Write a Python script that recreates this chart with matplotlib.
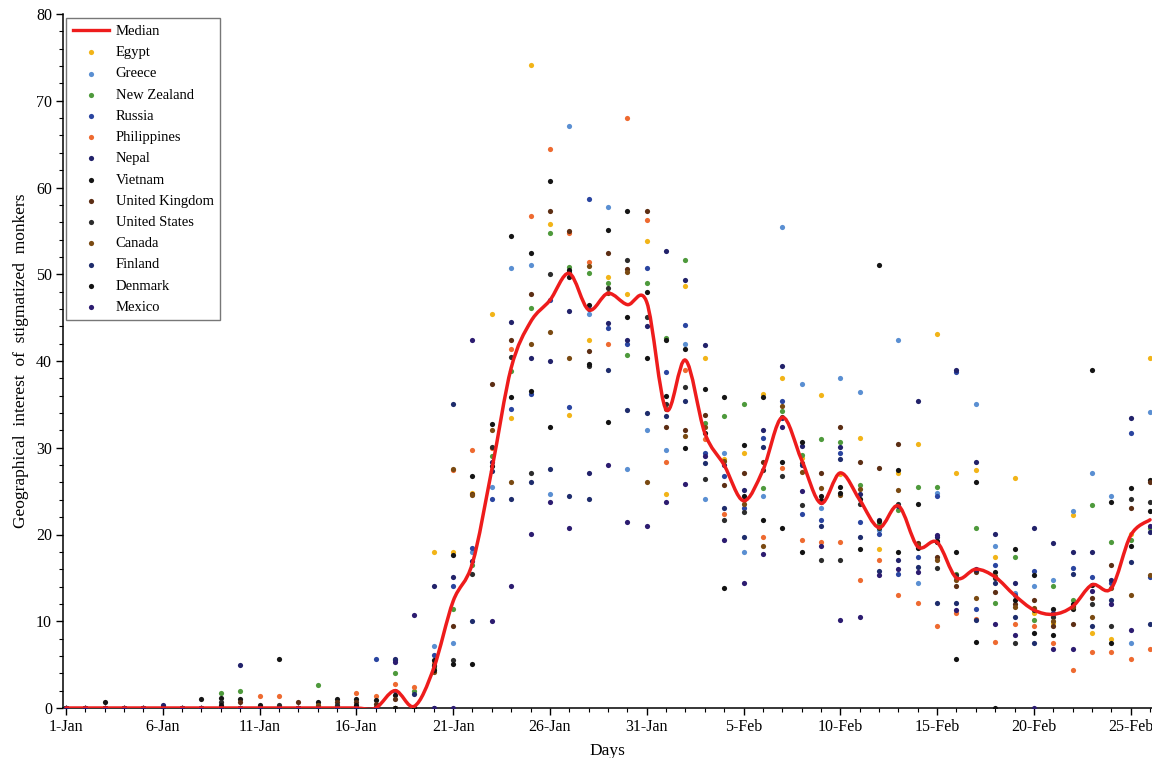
import numpy as np
import matplotlib
matplotlib.use("Agg")
import matplotlib.pyplot as plt
from matplotlib.path import Path
from matplotlib.patches import PathPatch
from matplotlib.lines import Line2D
from matplotlib.ticker import MultipleLocator

plt.rcParams['font.family'] = ['Liberation Serif', 'DejaVu Serif']

days = np.arange(57)
tick_days = list(range(0, 56, 5))
tick_labels = ["1-Jan", "6-Jan", "11-Jan", "16-Jan", "21-Jan", "26-Jan", "31-Jan",
               "5-Feb", "10-Feb", "15-Feb", "20-Feb", "25-Feb"]

def z(n):
    return [0.0] * n

median = z(17) + [2.0, 0.2, 4.6, 12.3, 16.7, 27.5, 39.2, 44.5, 47.0, 50.1, 45.9, 47.8,
                  46.5, 46.8, 34.4, 40.1, 31.7, 28.0, 23.9, 27.4, 33.5, 28.6, 23.6, 27.1,
                  24.0, 20.8, 23.3, 18.6, 19.1, 15.0, 16.0, 15.1, 13.0, 11.3, 10.8, 11.7,
                  14.2, 13.8, 19.9, 21.7]

egypt = z(19) + [18.0, 18.0, 24.8, 45.4, 33.4, 74.1, 55.8, 33.8, 42.4, 49.7, 47.7, 53.8,
                 24.7, 48.7, 40.4, 28.7, 29.4, 36.2, 38.0, 28.8, 36.1, 27.0, 31.1, 18.3,
                 27.1, 30.4, 43.1, 27.1, 27.4, 17.4, 26.5, 11.0, 9.8, 22.3, 8.7, 8.0,
                 20.1, 40.4]
greece = z(19) + [7.1, 7.5, 18.0, 25.5, 50.7, 51.1, 24.7, 67.1, 45.4, 57.7, 27.6, 32.0,
                  29.7, 42.0, 24.1, 29.4, 18.0, 24.4, 55.4, 37.3, 23.1, 38.0, 36.4, 20.5,
                  42.4, 14.4, 24.8, 15.0, 35.1, 18.7, 13.2, 14.1, 14.8, 22.7, 27.1, 24.4,
                  7.5, 34.1]
new_zealand = (z(8) + [1.7, 2.0, 0, 0, 0, 2.7, 0, 0, 0, 4.0, 2.0, 4.6, 11.4, 16.5, 29.0,
                       38.8, 46.1, 54.8, 50.8, 50.1, 49.0, 40.7, 49.0, 42.7, 51.7, 32.8,
                       33.7, 35.1, 25.4, 34.2, 29.2, 31.0, 30.7, 25.7, 21.2, 22.8, 25.5,
                       25.5, 15.5, 20.7, 12.1, 17.4, 10.1, 14.1, 12.4, 23.4, 19.1, 19.4,
                       20.7])
russia = z(16) + [5.7, 2.0, 0, 6.1, 14.1, 18.4, 24.1, 34.5, 36.2, 47.0, 34.7, 58.7, 43.8,
                  42.0, 50.7, 38.7, 44.1, 29.4, 26.8, 23.1, 31.1, 35.4, 22.4, 21.7, 29.4,
                  21.4, 20.1, 15.4, 17.4, 24.4, 38.7, 11.4, 16.5, 13.0, 15.8, 10.8, 16.1,
                  15.1, 14.4, 31.7, 15.1]
philippines = (z(10) + [1.35, 1.35, 0, 0, 0, 1.7, 1.35, 2.8, 2.4, 5.2, 27.4, 29.7, 30.0,
                        41.4, 56.7, 64.4, 54.8, 51.4, 42.0, 68.0, 56.3, 28.3, 39.0, 31.0,
                        22.4, 24.0, 19.7, 27.7, 19.4, 19.1, 19.1, 14.8, 17.1, 13.0, 12.1,
                        9.4, 11.0, 10.3, 7.6, 9.7, 9.5, 7.5, 4.4, 6.4, 6.4, 5.7, 6.8])
nepal = (z(5) + [0.4, 0, 0, 0, 5.0] + z(7) +
         [5.7, 0, 14.1, 15.1, 16.9, 28.4, 44.5, 40.4, 40.0, 45.8, 27.1, 44.4, 42.4, 44.0,
          52.7, 49.3, 41.8, 28.0, 25.1, 32.0, 39.4, 30.2, 23.7, 30.1, 24.7, 21.7, 17.1,
          35.4, 19.7, 39.0, 28.3, 20.1, 14.4, 20.7, 19.0, 18.0, 18.0, 14.8, 33.4, 20.3])
vietnam = ([0, 0, 0.7, 0, 0, 0, 0, 1.0, 1.1, 1.0, 0.3, 5.7, 0, 0.7, 1.0, 1.0, 0.9, 1.5,
            0, 5.5, 17.6, 26.8, 32.7, 54.4, 52.4, 60.7, 49.7, 46.5, 55.1, 57.3, 48.0, 42.4,
            41.4, 36.8, 35.8, 30.3, 35.8, 28.4, 30.7, 24.4, 25.5, 18.3, 51.1, 27.4, 23.5,
            19.1, 18.0, 26.1, 15.7, 18.3, 15.3, 11.4, 11.4, 39.0, 23.7, 25.4, 26.3])
united_kingdom = ([0, 0, 0, 0, 0, 0, 0, 0, 0, 0.7, 0, 0, 0.7, 0, 0.7, 0.7, 0.5, 1.0, 0,
                   4.8, 9.4, 24.7, 37.3, 42.4, 47.7, 57.3, 55.0, 41.1, 52.4, 50.6, 57.3,
                   32.4, 32.0, 33.8, 25.7, 27.1, 28.4, 33.5, 28.2, 27.1, 32.4, 28.4, 27.7,
                   30.4, 19.0, 17.4, 14.1, 15.7, 13.4, 12.0, 12.4, 9.4, 9.7, 12.7, 16.5,
                   23.1, 26.1])
united_states = ([0, 0, 0, 0, 0, 0, 0, 0, 0.7, 0, 0, 0.4, 0, 0, 0.4, 0, 0, 0, 0,
                  5.0, 5.5, 15.4, 30.1, 40.5, 27.1, 50.0, 50.3, 39.4, 48.4, 51.7, 45.1,
                  35.1, 37.0, 26.4, 21.7, 22.6, 27.4, 26.8, 23.4, 17.1, 17.1, 23.5, 20.8,
                  23.5, 18.6, 16.1, 15.3, 15.9, 15.0, 7.5, 11.3, 10.5, 11.8, 12.0, 9.4,
                  24.1, 23.7])
canada = (z(13) + [0.4, 0, 0, 0, 0, 0, 4.2, 27.6, 24.6, 32.0, 26.1, 42.0, 43.4, 40.4,
                   51.0, 47.8, 50.3, 26.1, 34.5, 31.4, 32.4, 28.5, 23.5, 18.7, 34.8, 27.2,
                   25.4, 24.5, 25.3, 20.9, 25.1, 18.8, 17.1, 14.8, 12.7, 15.2, 11.6, 11.5,
                   10.0, 11.6, 10.5, 13.8, 13.0, 15.3])
finland = z(17) + [5.5, 1.6, 0, 35.1, 10.0, 27.3, 24.1, 26.1, 27.6, 24.4, 24.1, 39.0, 34.4,
                   34.0, 33.7, 35.4, 28.2, 23.1, 19.7, 30.1, 33.4, 28.0, 21.0, 28.7, 19.7,
                   15.8, 23.3, 16.2, 12.1, 12.1, 10.1, 14.4, 10.5, 7.5, 11.0, 15.4, 9.4,
                   12.4, 16.8, 9.7]
denmark = ([0, 0, 0, 0, 0, 0, 0, 0, 0.4, 0, 0, 0, 0, 0, 0, 0.4, 0, 0, 0,
            4.4, 5.1, 5.1, 27.9, 35.8, 36.5, 32.4, 50.5, 39.7, 33.0, 45.1, 40.4, 36.0,
            30.0, 31.7, 13.8, 24.4, 21.7, 20.7, 18.0, 24.0, 24.8, 24.1, 21.5, 18.0, 18.4,
            19.3, 5.7, 7.6, 0, 12.5, 8.7, 8.4, 12.0, 14.2, 7.5, 18.7, 22.7])
mexico = z(17) + [5.3, 10.7, 0, 0, 42.4, 10.0, 14.1, 20.1, 23.7, 20.7, 46.0, 28.0, 21.4,
                  21.0, 23.7, 25.8, 29.0, 19.4, 14.4, 17.7, 32.4, 25.0, 18.7, 10.1, 10.5,
                  15.3, 16.0, 15.7, 20.0, 11.3, 16.0, 9.7, 8.4, 0, 6.8, 6.8, 13.5, 12.0,
                  9.0, 21.0]

countries = ["Egypt", "Greece", "New Zealand", "Russia", "Philippines", "Nepal", "Vietnam",
             "United Kingdom", "United States", "Canada", "Finland", "Denmark", "Mexico"]
series = [egypt, greece, new_zealand, russia, philippines, nepal, vietnam,
          united_kingdom, united_states, canada, finland, denmark, mexico]
colors = ["#F2B418", "#5A8FD2", "#4E9A3C", "#2A45A0", "#EE6A30", "#22226A", "#151515",
          "#5C2E14", "#2C2C2C", "#7A4A12", "#1E2C6C", "#121212", "#2C1C70"]

fig = plt.figure(figsize=(11.52, 7.58), dpi=100)
ax = fig.add_axes([63 / 1152, 1 - 708 / 758, 1 - 63 / 1152, (708 - 14) / 758])

handles = [Line2D([], [], color="#EE1C1C", lw=2.4, label="Median")]
for name, vals, col in zip(countries, series, colors):
    h = ax.scatter(days, vals, s=14, color=col, zorder=3, label=name, linewidths=0)
    handles.append(h)

# Smooth median line (Catmull-Rom converted to cubic Bezier segments)
pts = np.column_stack([days, median]).astype(float)
verts = [tuple(pts[0])]
codes = [Path.MOVETO]
n = len(pts)
for i in range(n - 1):
    p0 = pts[i - 1] if i > 0 else pts[i]
    p1 = pts[i]
    p2 = pts[i + 1]
    p3 = pts[i + 2] if i + 2 < n else pts[i + 1]
    c1 = p1 + (p2 - p0) / 6.0
    c2 = p2 - (p3 - p1) / 6.0
    verts += [tuple(c1), tuple(c2), tuple(p2)]
    codes += [Path.CURVE4, Path.CURVE4, Path.CURVE4]
ax.add_patch(PathPatch(Path(verts, codes), facecolor="none", edgecolor="#EE1C1C",
                       lw=2.5, zorder=5, capstyle="round", joinstyle="round"))

ax.set_xlim(-0.15, 56.1)
ax.set_ylim(0, 80)
ax.set_xticks(tick_days)
ax.set_xticklabels(tick_labels)
ax.xaxis.set_minor_locator(MultipleLocator(1))
ax.yaxis.set_major_locator(MultipleLocator(10))
ax.yaxis.set_minor_locator(MultipleLocator(2))
ax.tick_params(axis="both", which="major", direction="out", length=5, width=1,
               labelsize=11.5, colors="black", pad=3)
ax.tick_params(axis="both", which="minor", direction="out", length=3, width=0.8)
for side in ("top", "right"):
    ax.spines[side].set_visible(False)
for side in ("left", "bottom"):
    ax.spines[side].set_linewidth(1.1)

ax.set_xlabel("Days", fontsize=12.5, labelpad=6)
ax.set_ylabel("Geographical  interest  of  stigmatized  monkers", fontsize=12.5, labelpad=5)

leg = ax.legend(handles=handles, loc="upper left", bbox_to_anchor=(0.003, 0.994),
                borderaxespad=0, fontsize=10.5, frameon=True, fancybox=False,
                edgecolor="#777777", framealpha=1, handlelength=2.5, handletextpad=0.45,
                labelspacing=0.55, borderpad=0.45, scatterpoints=1, markerscale=1.0)
leg.get_frame().set_linewidth(1.0)

fig.savefig("out.png", dpi=100)
